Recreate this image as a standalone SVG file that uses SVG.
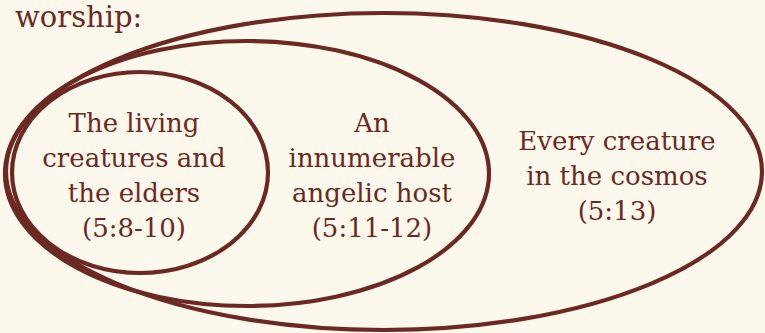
<svg xmlns="http://www.w3.org/2000/svg" width="765" height="333" viewBox="0 0 765 333">
  <style>
    .ring { fill: none; stroke: #6c2924; stroke-width: 4.2; }
    .lbl { font-family: "DejaVu Serif", "Liberation Serif", serif; font-size: 26px; fill: #6c2924; text-anchor: middle; }
    .title { font-family: "DejaVu Serif", "Liberation Serif", serif; font-size: 29px; fill: #6c2924; }
  </style>
  <rect x="0" y="0" width="765" height="333" fill="#fdf8ec"/>
  <text class="title" x="15" y="27">worship:</text>
  <g id="cosmos">
    <ellipse class="ring" cx="384" cy="171.5" rx="378" ry="158.5"/>
    <text class="lbl" x="617" y="150">Every creature</text>
    <text class="lbl" x="617" y="185">in the cosmos</text>
    <text class="lbl" x="617" y="220">(5:13)</text>
  </g>
  <g id="angels">
    <ellipse class="ring" cx="247" cy="173.5" rx="242" ry="132.5"/>
    <text class="lbl" x="372" y="132">An</text>
    <text class="lbl" x="372" y="167">innumerable</text>
    <text class="lbl" x="372" y="202">angelic host</text>
    <text class="lbl" x="372" y="237">(5:11-12)</text>
  </g>
  <g id="elders">
    <ellipse class="ring" cx="140" cy="172.5" rx="128" ry="100.5"/>
    <text class="lbl" x="134" y="132">The living</text>
    <text class="lbl" x="134" y="167">creatures and</text>
    <text class="lbl" x="134" y="202">the elders</text>
    <text class="lbl" x="134" y="237">(5:8-10)</text>
  </g>
  <g id="connectors"/>
</svg>
